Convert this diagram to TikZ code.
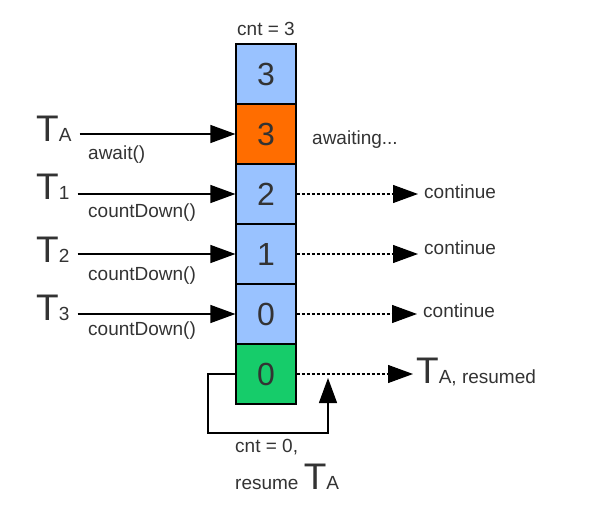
\documentclass[tikz,border=0pt]{standalone}
\usepackage{fontspec}
\setmainfont{Liberation Sans}
\usetikzlibrary{arrows.meta}
\definecolor{cellblue}{RGB}{153,194,255}
\definecolor{cellorange}{RGB}{255,109,0}
\definecolor{cellgreen}{RGB}{22,204,106}
\definecolor{txt}{RGB}{51,51,51}
\tikzset{
  cell/.style={draw, line width=1.2pt, minimum size=60pt, inner sep=0pt, text=txt,
    font=\fontsize{32}{32}\selectfont},
  lbl/.style={text=txt, inner sep=0pt, font=\fontsize{19}{19}\selectfont},
  thread/.style={text=txt, inner sep=0pt, font=\fontsize{37}{37}\selectfont},
  call/.style={line width=1.3pt, -{Triangle[length=25pt,width=18pt]}},
  go/.style={line width=1.1pt, dash pattern=on 3pt off 2pt, -{Triangle[length=25pt,width=18pt]}}
}
\newcommand{\thr}[1]{T{\fontsize{19}{19}\selectfont #1}}
\begin{document}
\begin{tikzpicture}[x=1pt,y=-1pt]
\useasboundingbox (0,0) rectangle (614,511);

	% counter column
	\foreach \i/\v/\c in {0/3/cellblue,1/3/cellorange,2/2/cellblue,3/1/cellblue,4/0/cellblue,5/0/cellgreen}
		\node[cell, fill=\c] (c\i) at (266,74+60*\i) {\v};

	\node[lbl, anchor=base] (cnt) at (266,36) {cnt = 3};

	% threads
	\node[thread, anchor=base west] (tA) at (36,142) {\thr{A}};
	\node[thread, anchor=base west] (t1) at (36,200) {\thr{1}};
	\node[thread, anchor=base west] (t2) at (36,262) {\thr{2}};
	\node[thread, anchor=base west] (t3) at (36,320) {\thr{3}};

	\draw[call] ([xshift=8pt]tA.east |- c1) -- (c1.west);
	\draw[call] ([xshift=8pt]t1.east |- c2) -- (c2.west);
	\draw[call] ([xshift=8pt]t2.east |- c3) -- (c3.west);
	\draw[call] ([xshift=8pt]t3.east |- c4) -- (c4.west);

	\node[lbl, anchor=base west] (wA) at (88,159) {await()};
	\node[lbl, anchor=base west] (w1) at (88,217) {countDown()};
	\node[lbl, anchor=base west] (w2) at (88,280) {countDown()};
	\node[lbl, anchor=base west] (w3) at (88,335) {countDown()};

	% results
	\node[lbl, anchor=base west] (wait) at (312,145) {awaiting...};
	\node[lbl, anchor=base west] (r1) at (424,198) {continue};
	\node[lbl, anchor=base west] (r2) at (424,254) {continue};
	\node[lbl, anchor=base west] (r3) at (423,317) {continue};
	\node[thread, anchor=base west] (rA) at (416,383) {\thr{A, resumed}};

	\draw[go] (c2.east) -- ([xshift=-6pt]c2.east -| r1.west);
	\draw[go] (c3.east) -- ([xshift=-6pt]c3.east -| r2.west);
	\draw[go] (c4.east) -- ([xshift=-6pt]c4.east -| r3.west);
	\draw[go] (c5.east) -- ([xshift=-3pt]c5.east -| rA.west);

	% release loop
	\coordinate (up) at (328,378);
	\draw[call] (c5.west) -- (208,374) -- (208,433) -- (up |- 0,433) -- (up);

	\node[lbl, anchor=base west] (zero) at (235,452) {cnt = 0,};
	\node[lbl, anchor=base west] (res) at (235,489) {resume {\fontsize{37}{37}\selectfont\thr{A}}};

\end{tikzpicture}
\end{document}
